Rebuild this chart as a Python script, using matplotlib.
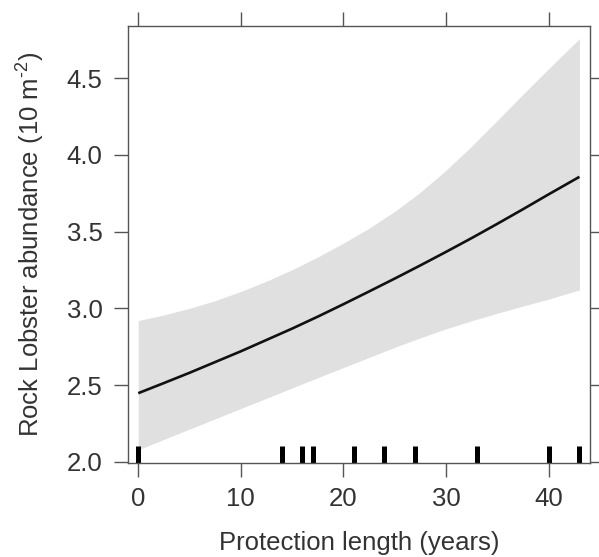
import matplotlib
matplotlib.use("Agg")
import matplotlib.pyplot as plt

plt.rcParams['font.family'] = ['Liberation Sans', 'DejaVu Sans']
plt.rcParams['mathtext.fontset'] = 'custom'
plt.rcParams['mathtext.rm'] = 'Liberation Sans'
plt.rcParams['mathtext.it'] = 'Liberation Sans:italic'
plt.rcParams['mathtext.bf'] = 'Liberation Sans:bold'

# Data
years = [0, 2.5, 5, 7.5, 10, 12.5, 15, 17.5, 20, 22.5, 25, 27.5, 30, 32.5, 35, 37.5, 40, 43]
fit = [2.447, 2.513, 2.58, 2.65, 2.72, 2.794, 2.868, 2.946, 3.027, 3.11, 3.194, 3.28,
       3.368, 3.458, 3.551, 3.646, 3.743, 3.857]
upper = [2.92, 2.957, 3.0, 3.05, 3.11, 3.177, 3.252, 3.335, 3.425, 3.522, 3.632, 3.757,
         3.90, 4.057, 4.225, 4.395, 4.562, 4.757]
lower = [2.078, 2.146, 2.213, 2.28, 2.347, 2.414, 2.481, 2.548, 2.614, 2.68, 2.746, 2.808,
         2.866, 2.919, 2.968, 3.015, 3.06, 3.12]
rug_years = [0, 14, 16, 17, 21, 24, 27, 33, 40, 43]
xticks = [0, 10, 20, 30, 40]
yticks = [2.0, 2.5, 3.0, 3.5, 4.0, 4.5]

W, H = 599, 557
fig = plt.figure(figsize=(W / 100, H / 100), dpi=100)
ax = fig.add_axes([127.7 / W, 1 - 463.3 / H, (590 - 127.7) / W, (463.3 - 26) / H])

ax.fill_between(years, lower, upper, color='#e0e0e0', linewidth=0)
ax.plot(years, fit, color='#111111', linewidth=1.9, solid_capstyle='butt')

trans = ax.get_xaxis_transform()
for r in rug_years:
    ax.plot([r, r], [0.0, 0.039], transform=trans, color='black',
            linewidth=3.6, solid_capstyle='butt')

ax.set_xlim(-1.03, 44.03)
ax.set_ylim(1.99, 4.84)
ax.set_xticks(xticks)
ax.set_xticklabels([str(v) for v in xticks])
ax.set_yticks(yticks)
ax.set_yticklabels([f"{v:.1f}" for v in yticks])

for s in ax.spines.values():
    s.set_color('#555555')
    s.set_linewidth(1.0)

ax.tick_params(axis='both', direction='out', length=10, width=1.0,
               color='#555555', labelsize=18.5, labelcolor='#333333')
ax.tick_params(axis='x', pad=7)
ax.tick_params(axis='y', pad=8)
ax.tick_params(top=True, right=True, labeltop=False, labelright=False)

ax.set_xlabel('Protection length (years)', fontsize=18.5, color='#333333', labelpad=14.5)
ax.set_ylabel(r'Rock Lobster abundance (10 m$^{\mathregular{\text{-}2}}$)', fontsize=18.5,
              color='#333333', labelpad=14)

fig.savefig('out.png', dpi=100, facecolor='white')
